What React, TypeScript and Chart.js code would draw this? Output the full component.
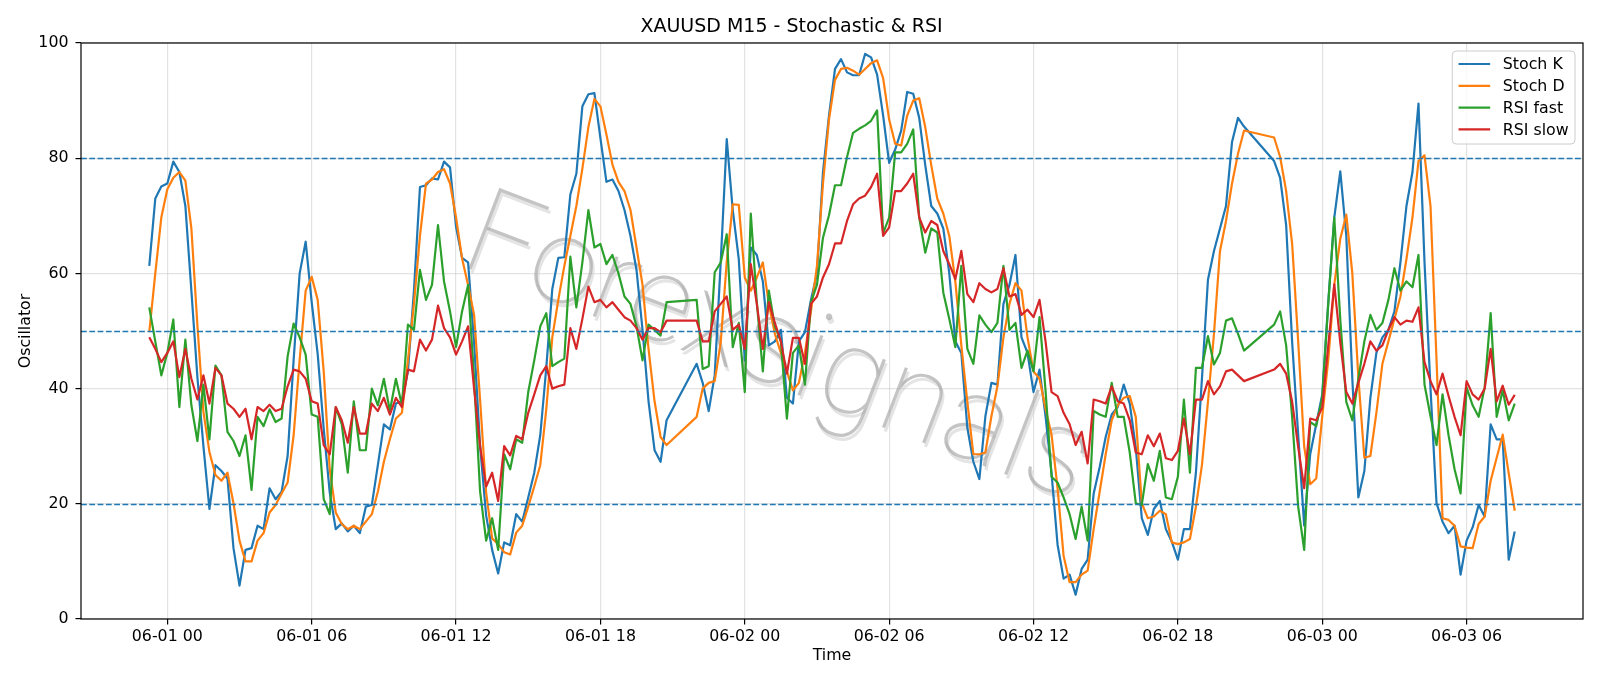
import React, { useEffect, useRef } from "react";
import { Chart, registerables } from "chart.js";

Chart.register(...registerables);

const chartTitle = "XAUUSD M15 - Stochastic & RSI";
const xAxisTitle = "Time";
const yAxisTitle = "Oscillator";
const seriesNames = ["Stoch K", "Stoch D", "RSI fast", "RSI slow"];
const seriesColors = ["#1f77b4", "#ff7f0e", "#2ca02c", "#d62728"];
const watermarkText = "Forexsignals";

// time of the first 15-minute bar, in hours relative to 06-01 00:00 (05-31 23:15)
const firstSlotHour = -0.75;
const slotHours = 0.25;

const xTickHours = [0, 6, 12, 18, 24, 30, 36, 42, 48, 54];
const xTickLabels = [
  "06-01 00", "06-01 06", "06-01 12", "06-01 18", "06-02 00",
  "06-02 06", "06-02 12", "06-02 18", "06-03 00", "06-03 06",
];
const yTickValues = [0, 20, 40, 60, 80, 100];
const levelLines = [20, 50, 80];

// null = missing bar (line is drawn straight across)
const stochK = [
  61.3, 73.0, 75.1, 75.6, 79.4, 77.6, 71.7, 57, 42, 30,
  19.1, 26.7, 25.7, 24.4, 12.3, 5.8, 12.0, 12.3, 16.2, 15.6,
  22.7, 20.8, 22.1, 28.3, 45, 60, 65.5, 55, 46, 33,
  22, 15.6, 16.6, 15.2, 16.2, 14.9, 19.5, 19.8, 26.7, 33.8,
  32.9, 37.4, 37.8, 43, 57, 75, 75.3, 76.5, 76.3, 79.4,
  78.4, 68.1, 62.7, 61.9, 48, 30, 18, 12, 7.9, 13.3,
  12.8, 18.2, 16.9, 21.1, 25.4, 31.9, 43.6, 57.3, 62.7, 62.8,
  73.7, 77.3, 89, 91.1, 91.3, 83.5, 75.9, 76.3, 74.3, 71,
  66.5, 60.6, 50.2, 37.8, 29.3, 27.3, 34.5, null, null, null,
  null, 44.3, 41, 36.1, 42.3, 62, 83.3, 71, 62.5, 44.9,
  64.5, 63.2, 58.6, 47.5, 48.2, 50.2, 38.4, 37.4, 48.2, 49.8,
  55.4, 60, 77.6, 87.4, 95.5, 97.2, 94.9, 94.4, 94.4, 98.1,
  97.5, 94.5, 87.4, 79.2, 81.5, 84.8, 91.5, 91.2, 87, 78.8,
  71.7, 70.4, 67.8, 60, 48.2, 46.2, 33.2, 27.3, 24.3, 35.2,
  41, 40.7, 54.7, 58, 63.2, 48.9, 46.2, 39.4, 43.3, 35.2,
  25.3, 12.9, 7, 7.7, 4.2, 8.7, 10.3, 21.8, 26.4, 31.6,
  35.5, 36.8, 40.7, 37.4, 29.8, 17.5, 14.6, 19.1, 20.5, 15.6,
  13.4, 10.3, 15.6, 15.6, 25.4, 41.7, 58.9, 63.9, 67.8, 71.7,
  82.8, 87, 85.5, null, null, null, null, 79.5, 76.6, 68.4,
  48, 32, 16.2, 28.6, 33.8, 39, 55, 69.7, 77.7, 66.5,
  41.7, 21.1, 25.7, 38.4, 46.2, 48.9, 50.2, 53.4, 61.9, 71.7,
  77.6, 89.5, 62, 40, 20.1, 16.9, 14.9, 16.2, 7.7, 13.6,
  15.9, 19.8, 17.8, 33.8, 31.2, 31.2, 10.3, 15.2,
];

const stochD = [
  49.8, 60, 69.7, 74.6, 76.6, 77.6, 76.1, 67.8, 51, 36,
  29, 25, 24, 25.4, 20.1, 13.6, 10, 10, 13.6, 14.9,
  18.5, 19.8, 21.8, 23.7, 31.9, 45, 57, 59.4, 55.4, 43,
  26, 18.5, 16.5, 15.6, 16.2, 15.6, 16.9, 18.2, 22.1, 27.3,
  31.2, 34.8, 35.8, 44.9, 54.7, 66.5, 75.6, 76.3, 77.6, 78.1,
  75.6, 69.7, 62.6, 58, 52.8, 38, 22, 14, 13, 11.6,
  11.2, 15, 16.2, 19.5, 23, 26.7, 36.4, 48.9, 55.4, 61.3,
  66.5, 71.7, 78.2, 85.4, 90.3, 89, 84.1, 78.9, 75.9, 74.3,
  71, 64.5, 58, 46.9, 37.8, 31.6, 30.2, null, null, null,
  null, 35.1, 40, 41, 41.3, 48, 62, 72, 71.9, 59.3,
  57, 59.3, 61.9, 54.7, 49.5, 46.2, 43, 39.7, 41, 46.2,
  53.4, 61.3, 75.6, 86.7, 93.6, 95.5, 95.7, 95.2, 94.5, 95.5,
  96.5, 97, 93.9, 86.7, 82.5, 82.2, 87.4, 90, 90.4, 85.4,
  78.8, 73, 70.4, 66.5, 58.6, 47.5, 37.7, 28.6, 28.6, 28.9,
  35.2, 40.4, 48.9, 54.7, 58.3, 57, 48.9, 43, 41.7, 36.5,
  32, 22.7, 11, 6.4, 6.4, 7.7, 8.4, 15.6, 22.1, 28.6,
  34.5, 37.1, 38.4, 38.7, 35.1, 20.1, 17.5, 17.8, 18.8, 18.2,
  13.3, 13, 13.3, 13.9, 19.5, 26.7, 37.7, 49.5, 63.9, 69.1,
  75.6, 80.8, 84.8, null, null, null, null, 83.6, 80.2, 74.3,
  65.1, 48.2, 29.9, 23.4, 24.4, 35.2, 45, 58, 66, 70.2,
  60, 42, 28, 28.3, 35.8, 44.3, 48.2, 52.1, 56, 62.5,
  69.7, 79.5, 80.5, 71.7, 45, 17.5, 17.2, 16.2, 12.6, 12.4,
  12.3, 16.5, 17.8, 24, 28, 32, 25.3, 18.8,
];

const rsiFast = [
  54.1, 48.2, 42.3, 46.2, 52, 36.8, 48.5, 37.1, 30.9, 40.7,
  31.2, 44, 42.3, 32.5, 30.9, 28.3, 31.9, 22.4, 35.1, 33.5,
  36.4, 34.2, 34.8, 45.6, 51.3, 48.9, 45.9, 35.5, 35.1, 20.8,
  18.2, 36.8, 33.8, 25.4, 37.8, 29.3, 29.3, 40, 37.1, 41.7,
  36.1, 41.7, 37.1, 51.1, 50.2, 60.6, 55.4, 58, 68.4, 58.6,
  53.4, 47.2, 53.4, 58, 41.7, 22.1, 13.6, 17.5, 12, 28.6,
  26, 31.2, 30.6, 39.4, 44.9, 50.8, 53.1, 43.9, 44.6, 45.2,
  62.9, 54.1, 61.9, 71, 64.5, 65.1, 61.6, 63.2, 60, 56,
  54.7, 50.8, 44.9, 51.1, 50.2, 49.2, 55, null, null, null,
  null, 55.4, 43.4, 43.9, 60.2, 61.9, 66.8, 47.2, 51.4, 39.4,
  70.4, 55, 43, 57, 50.8, 48.2, 34.8, 46.2, 47.5, 40.7,
  55, 58, 66.2, 70.1, 75.3, 75.3, 80.2, 84.4, 85.1, 85.7,
  86.5, 88.3, 67, 69.7, 81, 81, 82.5, 85, 69.7, 63.6,
  67.8, 67.1, 56.7, 52.1, 47.2, 61.3, 46.9, 44.3, 52.7, 51.1,
  49.8, 51.4, 61.3, 50.2, 51.4, 43.6, 46.6, 43, 52.4, 39.7,
  24.7, 23.7, 21.1, 18.2, 13.9, 19.5, 13.6, 36.1, 35.5, 35.1,
  41, 35.1, 35.1, 28.9, 20.1, 19.8, 26.9, 24, 29.2, 21.1,
  20.8, 24.7, 38.1, 25.4, 43.6, 43.6, 49.1, 44.2, 46.2, 51.8,
  52.2, 49.5, 46.6, null, null, null, null, 51.1, 53.4, 47.5,
  35, 19.5, 12, 34.2, 33.5, 38.4, 54.7, 69.7, 52, 37.7,
  34.5, 41.7, 48.2, 52.8, 50.2, 51.4, 55.4, 60.9, 57, 58.6,
  57.6, 63.2, 40.7, 35.2, 30.2, 39, 31.9, 26, 21.8, 40.2,
  37.1, 35.1, 40.2, 53.1, 35.1, 39.7, 34.5, 37.4,
];

const rsiSlow = [
  48.9, 46.9, 44.6, 46.2, 48.2, 42, 46.9, 41.7, 38.1, 42.3,
  37.4, 43.6, 42.3, 37.4, 36.5, 35.1, 36.5, 31.2, 36.8, 36.1,
  37.2, 36.1, 36.5, 40.4, 43.3, 43, 41.7, 37.8, 37.4, 30.2,
  28.6, 36.8, 34.5, 30.6, 36.8, 32.2, 32.2, 37.4, 36.1, 38.4,
  35.5, 38.4, 36.8, 43.3, 43, 48.5, 46.6, 48.5, 54.4, 50.5,
  48.9, 45.9, 48.2, 50.8, 40, 30, 23, 25.4, 20.5, 30,
  28.4, 31.8, 31.2, 35.8, 39, 42.3, 43.9, 40, 40.4, 40.7,
  50.5, 46.9, 52.1, 57.7, 55, 55.4, 54.1, 55, 53.7, 52.4,
  51.8, 50.5, 48.5, 50.5, 50.5, 49.8, 51.8, null, null, null,
  null, 51.8, 48.2, 48.2, 53.4, 54.7, 56, 50.2, 51.1, 46.9,
  61.6, 54.7, 46.9, 55, 51.4, 48.2, 42.6, 48.8, 48.8, 44.3,
  54.7, 56, 59.3, 61.6, 65.2, 65.2, 69.1, 72, 73, 73.5,
  75, 77.3, 66.5, 68, 74.3, 74.3, 75.6, 77.3, 69.7, 67.1,
  69.1, 68.4, 63.9, 61.6, 59, 63.9, 56.4, 55, 58.3, 57.3,
  56.7, 57.3, 60.9, 56, 56.4, 52.8, 53.7, 52.4, 55.4, 48.2,
  39.4, 38.7, 35.8, 33.8, 30.2, 32.5, 27, 38.1, 37.8, 37.4,
  40.4, 37.8, 37.4, 34.5, 28.9, 28.6, 31.9, 30, 32.2, 27.9,
  27.6, 29.2, 34.8, 28.6, 38.1, 38.1, 41.3, 39, 40.4, 43,
  43.3, 42.3, 41.3, null, null, null, null, 43.3, 44.3, 42.6,
  37.7, 29.9, 22.7, 34.8, 34.5, 36.7, 47.5, 58.1, 48, 39.4,
  37.4, 41, 44.3, 48.2, 46.6, 47.5, 50.2, 52.4, 51.1, 51.8,
  51.6, 54.1, 44.6, 41.3, 39, 42.6, 38.7, 35.1, 31.9, 41.3,
  39, 38.1, 40, 46.9, 37.8, 40.5, 37.2, 38.9,
];

const FONT = "'DejaVu Sans', sans-serif";
const BASE_SIZE = 15.8;

const overlayPlugin = {
  id: "overlay",
  beforeDatasetsDraw(chart: any) {
    const { ctx, chartArea: a } = chart;
    ctx.save();
    ctx.beginPath();
    ctx.rect(a.left, a.top, a.right - a.left, a.bottom - a.top);
    ctx.clip();
    const cx = a.left + 0.463 * (a.right - a.left);
    const cy = a.top + 0.54 * (a.bottom - a.top);
    ctx.translate(cx, cy);
    ctx.rotate((21 * Math.PI) / 180);
    const fam = "Roboto, Inter, 'Noto Sans', sans-serif";
    ctx.font = `100 100px ${fam}`;
    const w = ctx.measureText(watermarkText).width;
    const size = (100 * 660) / w;
    ctx.font = `100 ${size}px ${fam}`;
    ctx.textAlign = "center";
    ctx.textBaseline = "middle";
    ctx.fillStyle = "rgba(205,205,205,0.55)";
    ctx.fillText(watermarkText, 3, 3);
    ctx.fillStyle = "rgba(165,165,165,0.65)";
    ctx.fillText(watermarkText, 0, 0);
    ctx.restore();
  },
  afterDatasetsDraw(chart: any) {
    const { ctx, chartArea: a, scales } = chart;
    const y = scales.y;
    ctx.save();
    // reference levels
    ctx.strokeStyle = "#1f77b4";
    ctx.lineWidth = 1.5;
    ctx.setLineDash([5.8, 2.5]);
    levelLines.forEach((v) => {
      const py = Math.round(y.getPixelForValue(v)) + 0.5;
      ctx.beginPath();
      ctx.moveTo(a.left, py);
      ctx.lineTo(a.right, py);
      ctx.stroke();
    });
    ctx.setLineDash([]);
    // frame
    ctx.strokeStyle = "#000";
    ctx.lineWidth = 1.2;
    ctx.strokeRect(a.left, a.top, a.right - a.left, a.bottom - a.top);
    // legend
    ctx.font = `${BASE_SIZE}px ${FONT}`;
    const names = chart.data.datasets.map((d: any) => d.label);
    const maxW = Math.max(...names.map((n: string) => ctx.measureText(n).width));
    const pad = 0.4 * BASE_SIZE;
    const handle = 2 * BASE_SIZE;
    const gap = 0.8 * BASE_SIZE;
    const rowH = 21.8;
    const boxW = pad * 2 + handle + gap + maxW;
    const boxH = 93;
    const bx = a.right - 8 - boxW;
    const by = a.top + 8;
    ctx.beginPath();
    const r = 4;
    ctx.moveTo(bx + r, by);
    ctx.arcTo(bx + boxW, by, bx + boxW, by + boxH, r);
    ctx.arcTo(bx + boxW, by + boxH, bx, by + boxH, r);
    ctx.arcTo(bx, by + boxH, bx, by, r);
    ctx.arcTo(bx, by, bx + boxW, by, r);
    ctx.closePath();
    ctx.fillStyle = "rgba(255,255,255,0.8)";
    ctx.fill();
    ctx.strokeStyle = "#cccccc";
    ctx.lineWidth = 1;
    ctx.stroke();
    chart.data.datasets.forEach((d: any, i: number) => {
      const ry = by + 13 + i * rowH;
      ctx.strokeStyle = d.borderColor;
      ctx.lineWidth = 2.2;
      ctx.beginPath();
      ctx.moveTo(bx + pad, ry);
      ctx.lineTo(bx + pad + handle, ry);
      ctx.stroke();
      ctx.fillStyle = "#000";
      ctx.textAlign = "left";
      ctx.textBaseline = "middle";
      ctx.fillText(d.label, bx + pad + handle + gap, ry + 1);
    });
    ctx.restore();
  },
};

export default function App() {
  const ref = useRef<HTMLCanvasElement>(null);

  useEffect(() => {
    const canvas = ref.current;
    if (!canvas) return;
    Chart.defaults.font.family = FONT;
    Chart.defaults.color = "#000";
    const allSeries = [stochK, stochD, rsiFast, rsiSlow];
    const toPoints = (vals: (number | null)[]) =>
      vals.map((v, i) => ({ x: firstSlotHour + i * slotHours, y: v }));
    const dataStart = firstSlotHour;
    const dataEnd = firstSlotHour + (stochK.length - 1) * slotHours;
    const span = dataEnd - dataStart;
    const xMin = dataStart - 0.05 * span;
    const xMax = dataEnd + 0.05 * span;
    const gridColor = "rgba(176,176,176,0.35)";

    const chart = new Chart(canvas, {
      type: "line",
      data: {
        datasets: allSeries.map((vals, k) => ({
          label: seriesNames[k],
          data: toPoints(vals) as any,
          borderColor: seriesColors[k],
          backgroundColor: seriesColors[k],
          borderWidth: 2.2,
          pointRadius: 0,
          pointHoverRadius: 0,
          tension: 0,
          spanGaps: true,
          fill: false,
          order: 3 - k,
          borderJoinStyle: "round" as const,
        })),
      },
      options: {
        responsive: false,
        animation: false,
        devicePixelRatio: 1,
        events: [],
        layout: { padding: { left: 0, right: 17, top: 0, bottom: 0 } },
        plugins: {
          legend: { display: false },
          tooltip: { enabled: false },
          title: {
            display: true,
            text: chartTitle,
            color: "#000",
            font: { size: 19, weight: "normal", family: FONT },
            padding: { top: 15.6, bottom: 4.6 },
          },
        },
        scales: {
          x: {
            type: "linear",
            min: xMin,
            max: xMax,
            afterBuildTicks: (s: any) => {
              s.ticks = xTickHours.map((v) => ({ value: v }));
            },
            afterFit: (s: any) => {
              s.height = 67;
            },
            ticks: {
              callback: (_v: any, i: number) => xTickLabels[i],
              maxRotation: 0,
              minRotation: 0,
              autoSkip: false,
              padding: 3,
              color: "#000",
              font: { size: BASE_SIZE, family: FONT },
            },
            grid: {
              color: gridColor,
              tickColor: "#000",
              tickLength: 5.5,
              lineWidth: 1.2,
              tickWidth: 1.2,
            },
            border: { display: false },
            title: {
              display: true,
              text: xAxisTitle,
              color: "#000",
              font: { size: BASE_SIZE, family: FONT },
              padding: { top: 0, bottom: 20.5 },
            },
          },
          y: {
            type: "linear",
            min: 0,
            max: 100,
            afterBuildTicks: (s: any) => {
              s.ticks = yTickValues.map((v) => ({ value: v }));
            },
            afterFit: (s: any) => {
              s.width = 81;
            },
            ticks: {
              padding: 7,
              color: "#000",
              font: { size: BASE_SIZE, family: FONT },
            },
            grid: {
              color: gridColor,
              tickColor: "#000",
              tickLength: 5.5,
              lineWidth: 1.2,
              tickWidth: 1.2,
            },
            border: { display: false },
            title: {
              display: true,
              text: yAxisTitle,
              color: "#000",
              font: { size: BASE_SIZE, family: FONT },
              padding: { top: 16, bottom: 0 },
            },
          },
        },
      },
      plugins: [overlayPlugin],
    });
    return () => chart.destroy();
  }, []);

  return (
    <div style={{ position: "absolute", left: 0, top: 0, width: 1600, height: 686, background: "#fff" }}>
      <canvas ref={ref} width={1600} height={686} style={{ display: "block", width: 1600, height: 686 }} />
    </div>
  );
}
